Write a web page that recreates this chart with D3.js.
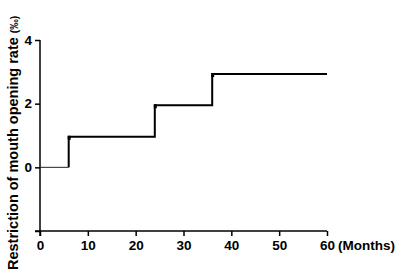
<!DOCTYPE html>
<html>
<head>
<meta charset="utf-8">
<script src="https://cdn.jsdelivr.net/npm/d3@7"></script>
<style>
  body { margin: 0; background: #fff; }
  text { font-family: "Liberation Sans", Arial, sans-serif; font-weight: bold; }
</style>
</head>
<body>
<svg id="chart" width="400" height="276"></svg>
<script>
const months = [0, 6, 24, 36, 60];
const rate = [0, 0.96, 1.95, 2.93, 2.93];
const xTicks = [0, 10, 20, 30, 40, 50, 60];
const yTicks = [-2, 0, 2, 4];

const svg = d3.select("svg#chart");
const mLeft = 40, mRight = 327, mTop = 40, mBottom = 231;

const x = d3.scaleLinear().domain([0, 60]).range([mLeft, mRight]);
const y = d3.scaleLinear().domain([-2, 4]).range([mBottom, mTop]);

const xAxis = svg.append("g")
    .attr("transform", `translate(0, ${mBottom})`)
    .call(d3.axisBottom(x).tickValues(xTicks).tickSize(5).tickSizeOuter(0).tickPadding(4));
xAxis.select(".domain").attr("stroke-width", 1.5).attr("d", `M${mLeft - 5},0H${mRight}`);
xAxis.selectAll(".tick line").attr("stroke-width", 1.5);
xAxis.selectAll("text").attr("font-size", 13.5).attr("fill", "#000");

const yAxis = svg.append("g")
    .attr("transform", `translate(${mLeft}, 0)`)
    .call(d3.axisLeft(y).tickValues(yTicks).tickSize(5).tickSizeOuter(0).tickPadding(3)
        .tickFormat(d => d < 0 ? "" : d));
yAxis.select(".domain").attr("stroke-width", 1.5).attr("d", `M0,${mTop}V${mBottom + 5}`);
yAxis.selectAll(".tick line").attr("stroke-width", 1.5);
yAxis.selectAll("text").attr("font-size", 13.5).attr("fill", "#000");

svg.append("text")
    .attr("x", x(60) + 11)
    .attr("y", mBottom + 19)
    .attr("font-size", 13.5)
    .text("(Months)");

const yLabel = svg.append("text")
    .attr("transform", "translate(17.5, 270) rotate(-90)")
    .attr("text-anchor", "start")
    .attr("font-size", 14.5);
yLabel.append("tspan").text("Restriction of mouth opening rate ");
yLabel.append("tspan").attr("font-size", 10.5).text("(‰)");

const pts = months.map((m, i) => ({ m, r: rate[i] }));
const line = d3.line().x(d => x(d.m)).y(d => y(d.r)).curve(d3.curveStepAfter);

// flat part at zero is drawn thinner
svg.append("path")
    .attr("fill", "none")
    .attr("stroke", "#222")
    .attr("stroke-width", 1)
    .attr("d", line([pts[0], { m: pts[1].m, r: pts[0].r }]));

svg.append("path")
    .attr("fill", "none")
    .attr("stroke", "#000")
    .attr("stroke-width", 2)
    .attr("d", line([{ m: pts[1].m, r: pts[0].r }, ...pts.slice(1)]));

svg.selectAll("rect.mark")
    .data(pts.slice(1, 4))
    .enter()
    .append("rect")
    .attr("class", "mark")
    .attr("x", d => x(d.m) - 1)
    .attr("y", d => y(d.r) - 1)
    .attr("width", 3)
    .attr("height", 4)
    .attr("fill", "#000");
</script>
</body>
</html>
